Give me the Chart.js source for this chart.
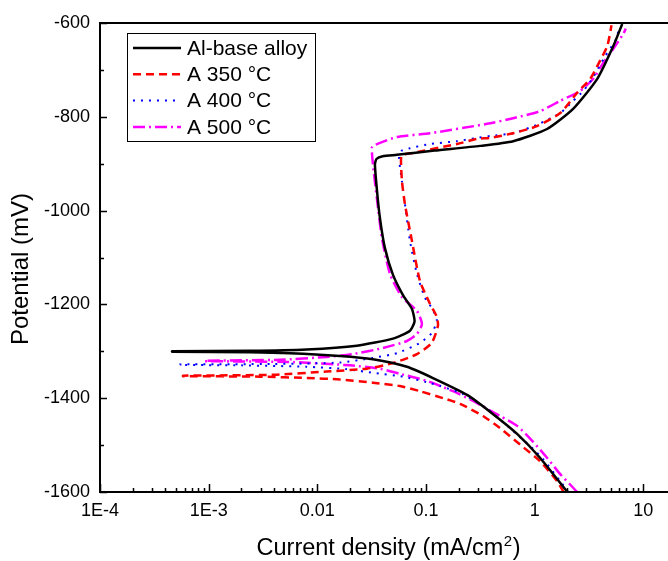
<!DOCTYPE html>
<html>
<head>
<meta charset="utf-8">
<title>Polarization curves</title>
<script src="https://cdn.jsdelivr.net/npm/chart.js@4.4.1/dist/chart.umd.min.js"></script>
<style>
html,body{margin:0;padding:0;background:#fff;overflow:hidden;}
#wrap{width:700px;height:561px;}
</style>
</head>
<body>
<div id="wrap"><canvas id="chart" width="700" height="561"></canvas></div>
<script>
const seriesNames = ["Al-base alloy", "A 350 °C", "A 400 °C", "A 500 °C"];

// current density (mA/cm2) and potential (mV)
const baseI = [2.0, 1.12, 0.69, 0.415, 0.239, 0.116, 0.0668, 0.0325, 0.0161, 0.0056, 0.0024, 0.00046,
  0.00046, 0.0024, 0.008, 0.0231, 0.0497, 0.0713, 0.0785, 0.0743, 0.0614, 0.0497, 0.0419, 0.0377, 0.0355, 0.0339,
  0.0350, 0.040, 0.054, 0.12, 0.315, 0.634, 1.30, 2.26, 3.77, 5.30, 6.40];
const baseE = [-1600, -1527, -1476, -1434, -1393, -1357, -1333, -1317, -1310, -1304, -1302, -1301,
  -1300, -1299, -1296, -1288, -1273, -1256, -1236, -1210, -1180, -1137, -1080, -1016, -960, -902,
  -890, -884, -881, -872, -862, -852, -826, -783, -719, -649, -602];

const a350I = [1.85, 1.61, 1.12, 0.735, 0.481, 0.335, 0.206, 0.144, 0.088, 0.0575, 0.0325, 0.0161, 0.008, 0.003, 0.00058,
  0.00058, 0.004, 0.0122, 0.0286, 0.0497, 0.0826, 0.113, 0.129, 0.125, 0.109, 0.088, 0.0743, 0.064, 0.0601, 0.0589,
  0.060, 0.0759, 0.193, 0.295, 0.389, 0.634, 1.05, 1.72, 2.46, 3.25, 3.77, 4.66, 5.1];
const a350E = [-1600, -1577, -1534, -1499, -1464, -1438, -1412, -1400, -1385, -1374, -1367, -1360, -1357, -1354, -1353,
  -1352, -1350, -1343, -1337, -1325, -1306, -1282, -1245, -1225, -1199, -1150, -1065, -986, -937, -894,
  -882, -877, -858, -847, -845, -835, -820, -792, -749, -719, -692, -649, -605];

const a400I = [2.04, 1.72, 1.20, 0.968, 0.594, 0.365, 0.219, 0.135, 0.102, 0.0614, 0.0325, 0.0187, 0.008, 0.002, 0.00054,
  0.00054, 0.004, 0.0161, 0.0325, 0.0541, 0.0881, 0.113, 0.126, 0.115, 0.098, 0.0826, 0.0713, 0.064, 0.0601, 0.0565,
  0.060, 0.0713, 0.109, 0.193, 0.295, 0.389, 0.634, 1.05, 1.72, 2.26, 2.80, 3.39, 4.47, 5.52, 5.9];
const a400E = [-1600, -1577, -1530, -1508, -1464, -1423, -1391, -1374, -1366, -1354, -1346, -1338, -1333, -1330, -1329,
  -1328, -1327, -1324, -1314, -1304, -1282, -1261, -1235, -1210, -1186, -1135, -1065, -986, -937, -886,
  -872, -867, -858, -852, -845, -841, -835, -817, -792, -766, -745, -719, -670, -638, -618];

const a500I = [2.46, 2.12, 1.72, 1.30, 0.968, 0.690, 0.481, 0.271, 0.177, 0.102, 0.0575, 0.0377, 0.02, 0.006, 0.00092,
  0.00092, 0.0045, 0.0122, 0.0212, 0.0402, 0.0668, 0.0826, 0.0918, 0.0826, 0.060, 0.0466, 0.0393, 0.0353, 0.0325, 0.0318,
  0.034, 0.0541, 0.109, 0.365, 0.634, 1.12, 1.72, 2.62, 3.46, 4.28, 5.30, 6.55, 6.9];
const a500E = [-1600, -1584, -1562, -1527, -1493, -1459, -1438, -1406, -1385, -1363, -1348, -1337, -1330, -1323, -1321,
  -1320, -1318, -1312, -1306, -1293, -1278, -1263, -1242, -1214, -1184, -1135, -1058, -973, -901, -866,
  -860, -843, -835, -815, -803, -788, -766, -745, -719, -685, -655, -623, -612];

const xTickValues = [1e-4, 1e-3, 0.01, 0.1, 1, 10];
const xTickLabels = ["1E-4", "1E-3", "0.01", "0.1", "1", "10"];
const yTickLabels = [-1600, -1400, -1200, -1000, -800, -600];

const xTitle = ["Current density (mA/cm", "2", ")"];
const yTitle = "Potential (mV)";

const FONT = '"Liberation Sans", Arial, sans-serif';
Chart.defaults.font.family = FONT;
Chart.defaults.color = "#000";

function pts(I, E){
  return I.map((x,i)=>({x:x, y:E[i]}));
}

const frameTicks = {
  id: "frameTicks",
  afterDraw(chart){
    const {ctx, chartArea:a, scales} = chart;
    ctx.save();
    ctx.strokeStyle = "#000";
    ctx.lineWidth = 2;
    ctx.strokeRect(a.left, a.top, a.right-a.left, a.bottom-a.top);
    ctx.lineWidth = 1.5;
    ctx.beginPath();
    scales.x.ticks.forEach(t=>{
      const px = Math.round(scales.x.getPixelForValue(t.value)) + 0.5;
      ctx.moveTo(px, a.bottom);
      ctx.lineTo(px, a.bottom - (t.major ? 8 : 4));
    });
    scales.y.ticks.forEach(t=>{
      const py = Math.round(scales.y.getPixelForValue(t.value)) + 0.5;
      const major = yTickLabels.includes(t.value);
      ctx.moveTo(a.left, py);
      ctx.lineTo(a.left + (major ? 7 : 4), py);
    });
    ctx.stroke();
    ctx.restore();
  }
};

// axis titles drawn by hand so the x title can carry a raised 2
const axisTitles = {
  id: "axisTitles",
  afterDraw(chart){
    const {ctx, chartArea:a} = chart;
    ctx.save();
    ctx.fillStyle = "#000";
    ctx.textBaseline = "alphabetic";
    const big = "23.5px " + FONT, small = "15px " + FONT;
    ctx.font = big;
    const w0 = ctx.measureText(xTitle[0]).width;
    const w2 = ctx.measureText(xTitle[2]).width;
    ctx.font = small;
    const w1 = ctx.measureText(xTitle[1]).width;
    let x = (a.left + a.right)/2 - (w0 + w1 + w2)/2;
    const base = 555;
    ctx.font = big;
    ctx.fillText(xTitle[0], x, base);
    x += w0;
    ctx.font = small;
    ctx.fillText(xTitle[1], x + 0.5, base - 9);
    x += w1 + 1;
    ctx.font = big;
    ctx.fillText(xTitle[2], x, base);

    ctx.translate(21, 269);
    ctx.rotate(-Math.PI/2);
    ctx.font = "24px " + FONT;
    ctx.textAlign = "center";
    ctx.textBaseline = "middle";
    ctx.fillText(yTitle, 0, 0);
    ctx.restore();
  }
};

const legendBox = {
  id: "legendBox",
  afterDraw(chart){
    const ctx = chart.ctx;
    ctx.save();
    ctx.fillStyle = "#fff";
    ctx.fillRect(127, 33, 188, 108);
    ctx.strokeStyle = "#000";
    ctx.lineWidth = 1;
    ctx.strokeRect(127.5, 33.5, 188, 108);
    ctx.font = "21px " + FONT;
    ctx.textBaseline = "middle";
    chart.data.datasets.forEach((ds,i)=>{
      const y = 48 + i*26.3;
      ctx.beginPath();
      ctx.setLineDash(ds.borderDash || []);
      ctx.lineWidth = ds.borderWidth;
      ctx.strokeStyle = ds.borderColor;
      ctx.moveTo(133, y);
      ctx.lineTo(181, y);
      ctx.stroke();
      ctx.setLineDash([]);
      ctx.fillStyle = "#000";
      ctx.fillText(ds.label, 187, y + 1);
    });
    ctx.restore();
  }
};

function line(label, I, E, color, dash, width, order){
  return {
    label: label,
    data: pts(I, E),
    showLine: true,
    borderColor: color,
    borderWidth: width,
    borderDash: dash,
    pointRadius: 0,
    tension: 0.2,
    fill: false,
    order: order
  };
}

new Chart(document.getElementById("chart"), {
  type: "scatter",
  data: {
    datasets: [
      line(seriesNames[0], baseI, baseE, "#000000", [], 2.5, 0),
      line(seriesNames[1], a350I, a350E, "#ff0000", [8,5], 2.5, 1),
      line(seriesNames[2], a400I, a400E, "#0000ff", [2,6], 2, 1),
      line(seriesNames[3], a500I, a500E, "#ff00ff", [12,4,2,4], 2.5, 1)
    ]
  },
  options: {
    responsive: false,
    animation: false,
    devicePixelRatio: 1,
    layout: { padding: { top: 23, right: 24, left: 0, bottom: 0 } },
    plugins: { legend: { display: false }, tooltip: { enabled: false } },
    scales: {
      x: {
        type: "logarithmic",
        min: 1e-4,
        max: 20,
        afterFit: s => { s.height = 69; },
        afterBuildTicks: s => {
          const t = [];
          for(let e=-4; e<=1; e++){
            for(let m=1; m<=9; m++){
              const v = m*Math.pow(10,e);
              if(v <= 20) t.push({value:v, major:m===1});
            }
          }
          s.ticks = t;
        },
        grid: { display: false, drawTicks: false },
        border: { display: false },
        ticks: {
          autoSkip: false,
          maxRotation: 0,
          padding: 8,
          font: { size: 18 },
          callback: v => {
            const i = xTickValues.findIndex(x => Math.abs(v/x - 1) < 1e-6);
            return i >= 0 ? xTickLabels[i] : "";
          }
        }
      },
      y: {
        min: -1600,
        max: -600,
        afterFit: s => { s.width = 100; },
        grid: { display: false, drawTicks: false },
        border: { display: false },
        ticks: {
          stepSize: 100,
          padding: 10,
          font: { size: 18 },
          callback: v => yTickLabels.includes(v) ? String(v) : ""
        }
      }
    }
  },
  plugins: [frameTicks, axisTitles, legendBox]
});
</script>
</body>
</html>
